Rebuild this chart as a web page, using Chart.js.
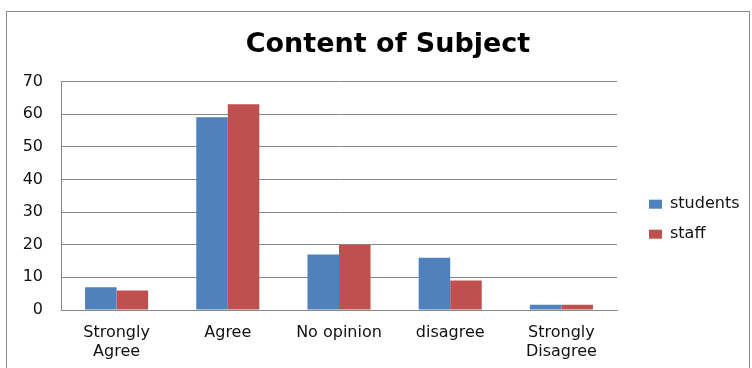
<!DOCTYPE html>
<html>
<head>
<meta charset="utf-8">
<script src="https://cdn.jsdelivr.net/npm/chart.js@4/dist/chart.umd.min.js"></script>
<style>
  body { margin: 0; background: #fff; }
  canvas { display: block; }
</style>
</head>
<body>
<canvas id="myChart" width="752" height="368"></canvas>
<script>
// values
const categories = [['Strongly', 'Agree'], 'Agree', 'No opinion', 'disagree', ['Strongly', 'Disagree']];
const students = [7, 59, 17, 16, 1.6];
const staff = [6, 63, 20, 9, 1.6];
const yTicks = [0, 10, 20, 30, 40, 50, 60, 70];

const FONT = 'DejaVu Sans';

// grey frame round the whole chart
const frame = {
    id: 'frame',
    beforeDraw(chart) {
        const c = chart.ctx;
        c.save();
        c.strokeStyle = '#8a8a8a';
        c.lineWidth = 1;
        c.strokeRect(6.5, 11.5, 743, 400);
        c.restore();
    },
    // the y labels are clipped to the axis box, so let that box reach the edge
    afterLayout(chart) {
        chart.scales.y.left = 0;
    }
};

const ctx = document.getElementById('myChart').getContext('2d');
const data = {
    labels: categories,
    datasets: [{
        label: 'students',
        data: students,
        backgroundColor: '#4F81BD',
        borderWidth: 0
    }, {
        label: 'staff',
        data: staff,
        backgroundColor: '#C0504D',
        borderWidth: 0
    }]
};
const config = {
    type: 'bar',
    data: data,
    plugins: [frame],
    options: {
        responsive: false,
        animation: false,
        categoryPercentage: 0.567,
        barPercentage: 1.0,
        layout: {
            padding: { top: 0, left: 31, right: 7, bottom: 6 }
        },
        plugins: {
            title: {
                display: true,
                text: 'Content of Subject',
                color: '#000',
                font: { family: FONT, size: 27, weight: 'bold', lineHeight: 1.2 },
                padding: { top: 29, bottom: 20 }
            },
            legend: {
                position: 'right',
                maxWidth: 110,
                title: {
                    display: true,
                    text: '',
                    padding: { top: 62, bottom: 0 }
                },
                labels: {
                    boxWidth: 13,
                    boxHeight: 9,
                    padding: 14,
                    color: '#111',
                    font: { family: FONT, size: 16 }
                }
            },
            tooltip: { enabled: false }
        },
        scales: {
            x: {
                afterFit: function (s) { s.height = 52; },
                grid: { display: false, drawTicks: false },
                border: { display: true, color: '#888' },
                ticks: {
                    color: '#111',
                    padding: 13,
                    maxRotation: 0,
                    autoSkip: false,
                    font: { family: FONT, size: 16, lineHeight: 1.2 }
                }
            },
            y: {
                min: 0,
                max: 70,
                afterBuildTicks: function (s) {
                    s.ticks = yTicks.map(v => ({ value: v }));
                },
                afterFit: function (s) { s.width = 30; },
                grid: { color: '#888', drawTicks: false },
                border: { display: true, color: '#888' },
                ticks: {
                    color: '#111',
                    padding: 18,
                    font: { family: FONT, size: 16 }
                }
            },
            // empty right axis, only keeps a gap before the legend
            y2: {
                position: 'right',
                grid: { display: false, drawTicks: false },
                border: { display: false },
                ticks: { display: false },
                afterFit: function (s) { s.width = 18; }
            }
        }
    }
};
const myChart = new Chart(ctx, config);
</script>
</body>
</html>
